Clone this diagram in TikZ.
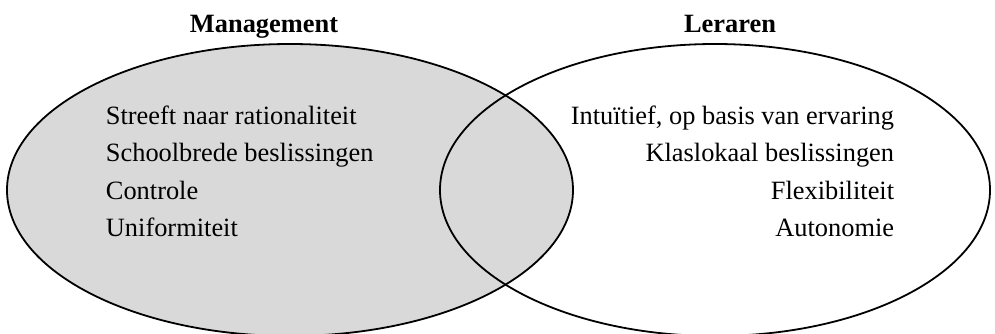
\documentclass[tikz,border=0pt]{standalone}
\usepackage{fontspec}
\setmainfont{Liberation Serif}
\usepackage{tikz}
\usetikzlibrary{positioning}

\begin{document}
\begin{tikzpicture}[x=0.5pt,y=-0.5pt,line width=0.9pt,
  set/.style={draw=black},
  head/.style={font=\fontsize{13.2}{16}\selectfont\bfseries,anchor=base},
  item/.style={font=\fontsize{13.2}{16}\selectfont,inner sep=0pt}]
\useasboundingbox (0,0) rectangle (995,333);
\clip (0,0) rectangle (995,333);
% management set
\fill[gray!30] (290,190) ellipse [x radius=141.5pt,y radius=73pt];
\draw[set] (715,190) ellipse [x radius=137.5pt,y radius=73pt];
\draw[set] (290,190) ellipse [x radius=141.5pt,y radius=73pt];
\node[head] (mgmt) at (264,32) {Management};
\node[head] (leraren) at (730,32) {Leraren};
% left column
\node[item,anchor=base west] (rat) at (105,124) {Streeft naar rationaliteit};
\node[item,anchor=base west] (school) at (105,161.5) {Schoolbrede beslissingen};
\node[item,anchor=base west] (contr) at (105,199) {Controle};
\node[item,anchor=base west] (unif) at (105,236) {Uniformiteit};
% right column
\node[item,anchor=base east] (intu) at (895,124) {Intuïtief, op basis van ervaring};
\node[item,anchor=base east] (klas) at (895,161.5) {Klaslokaal beslissingen};
\node[item,anchor=base east] (flex) at (895,199) {Flexibiliteit};
\node[item,anchor=base east] (auto) at (895,236) {Autonomie};
\end{tikzpicture}
\end{document}
